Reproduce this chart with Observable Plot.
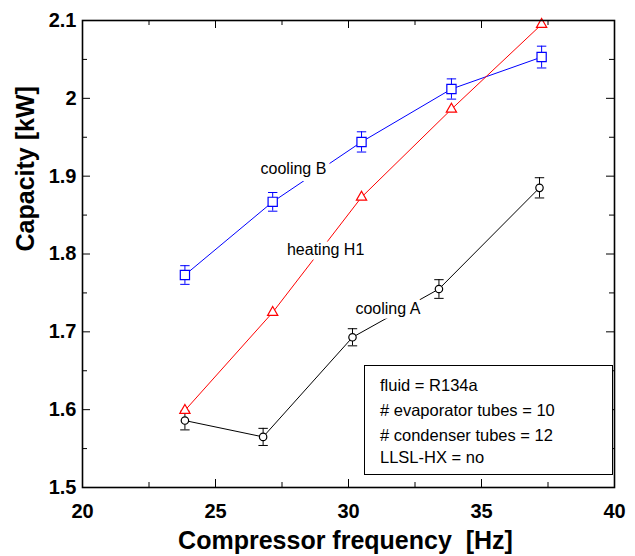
<!DOCTYPE html>
<html><head><meta charset="utf-8">
<script src="https://cdn.jsdelivr.net/npm/d3@7"></script>
<script src="https://cdn.jsdelivr.net/npm/@observablehq/plot@0.6"></script>
<style>
body{margin:0;background:#fff;}
#wrap{position:relative;width:635px;height:556px;}
#wrap svg{display:block;overflow:visible;}
#note{position:absolute;left:364px;top:365px;width:249px;height:110px;border:1px solid #000;box-sizing:border-box;background:#fff;font-family:"Liberation Sans",Arial,sans-serif;font-size:16.5px;color:#000;}
#note div{position:absolute;left:15px;white-space:nowrap;line-height:1;}
</style></head>
<body><div id="wrap"></div>
<script>
// ---- data ----
const freqCoolingB = [23.85, 27.15, 30.49, 33.87, 37.26];
const capCoolingB  = [1.773, 1.867, 1.944, 2.012, 2.053];
const errCoolingB  = [0.012, 0.012, 0.013, 0.013, 0.014];

const freqHeatingH1 = [23.85, 27.15, 30.49, 33.87, 37.26];
const capHeatingH1  = [1.599, 1.725, 1.873, 1.986, 2.095];

const freqCoolingA = [23.85, 26.79, 30.15, 33.40, 37.18];
const capCoolingA  = [1.586, 1.565, 1.693, 1.755, 1.885];
const errCoolingA  = [0.012, 0.011, 0.011, 0.012, 0.013];

const labelNames = ["cooling B", "heating H1", "cooling A"];
const labelFreq  = [27.93, 29.14, 31.48];
const labelCap   = [1.909, 1.805, 1.729];

const xMajorTicks = [20, 25, 30, 35, 40];
const xMinorTicks = [22.5, 27.5, 32.5, 37.5];
const yMajorTicks = [1.5, 1.6, 1.7, 1.8, 1.9, 2, 2.1];
const yMinorTicks = [1.55, 1.65, 1.75, 1.85, 1.95, 2.05];

const xTitle = "Compressor frequency  [Hz]";
const yTitle = "Capacity [kW]";
const noteLines = ["fluid = R134a", "# evaporator tubes = 10", "# condenser tubes = 12", "LLSL-HX = no"];

// ---- tables ----
const seriesB = freqCoolingB.map((f, i) => ({f, c: capCoolingB[i], e: errCoolingB[i]}));
const seriesH = freqHeatingH1.map((f, i) => ({f, c: capHeatingH1[i]}));
const seriesA = freqCoolingA.map((f, i) => ({f, c: capCoolingA[i], e: errCoolingA[i]}));
const labels = labelNames.map((t, i) => ({t, f: labelFreq[i], c: labelCap[i]}));

const capSymbol = {draw(ctx, size) { const w = Math.sqrt(size / Math.PI); ctx.moveTo(-w, 0); ctx.lineTo(w, 0); }};

const W = 635, H = 556, mL = 82, mR = 21, mT = 20, mB = 69;
const fw = W - mL - mR, fh = H - mT - mB;
const font = "'Liberation Sans', Arial, sans-serif";

function errMarks(data, color) {
  return [
    Plot.ruleX(data, {x: "f", y1: d => d.c - d.e, y2: d => d.c + d.e, stroke: color, strokeWidth: 1}),
    Plot.dot(data, {x: "f", y: d => d.c + d.e, symbol: capSymbol, r: 4.7, stroke: color, fill: "none", strokeWidth: 1}),
    Plot.dot(data, {x: "f", y: d => d.c - d.e, symbol: capSymbol, r: 4.7, stroke: color, fill: "none", strokeWidth: 1})
  ];
}

const chart = Plot.plot({
  width: W, height: H,
  marginLeft: mL, marginRight: mR, marginTop: mT, marginBottom: mB,
  style: {fontFamily: font, background: "white", color: "black"},
  x: {domain: [20, 40], label: null},
  y: {domain: [1.5, 2.1], label: null},
  marks: [
    // inward ticks on all four sides
    Plot.tickX(xMajorTicks, {x: d => d, insetTop: fh - 8, stroke: "black"}),
    Plot.tickX(xMajorTicks, {x: d => d, insetBottom: fh - 8, stroke: "black"}),
    Plot.tickX(xMinorTicks, {x: d => d, insetTop: fh - 5, stroke: "black"}),
    Plot.tickX(xMinorTicks, {x: d => d, insetBottom: fh - 5, stroke: "black"}),
    Plot.tickY(yMajorTicks, {y: d => d, insetRight: fw - 8, stroke: "black"}),
    Plot.tickY(yMajorTicks, {y: d => d, insetLeft: fw - 8, stroke: "black"}),
    Plot.tickY(yMinorTicks, {y: d => d, insetRight: fw - 5, stroke: "black"}),
    Plot.tickY(yMinorTicks, {y: d => d, insetLeft: fw - 5, stroke: "black"}),
    Plot.axisX(xMajorTicks, {tickSize: 0, tickPadding: 16, fontSize: 20, fontWeight: "bold", tickFormat: d => String(d), label: null}),
    Plot.axisY(yMajorTicks, {tickSize: 0, tickPadding: 6, fontSize: 20, fontWeight: "bold", tickFormat: d => String(d), label: null}),
    // series lines
    Plot.line(seriesB, {x: "f", y: "c", stroke: "#0000ff", strokeWidth: 1}),
    Plot.line(seriesH, {x: "f", y: "c", stroke: "#ff0000", strokeWidth: 1}),
    Plot.line(seriesA, {x: "f", y: "c", stroke: "black", strokeWidth: 1}),
    // in-line labels (white halo interrupts the lines)
    Plot.text(labels, {x: "f", y: "c", text: "t", fontSize: 16, fill: "black", stroke: "white", strokeWidth: 9, fontFamily: font}),
    // error bars
    ...errMarks(seriesB, "#0000ff"),
    ...errMarks(seriesA, "black"),
    // markers
    Plot.dot(seriesB, {x: "f", y: "c", symbol: "square", r: 5.2, stroke: "#0000ff", fill: "white", strokeWidth: 1.2}),
    Plot.dot(seriesH, {x: "f", y: "c", symbol: "triangle", r: 3.8, stroke: "#ff0000", fill: "white", strokeWidth: 1.2}),
    Plot.dot(seriesA, {x: "f", y: "c", symbol: "circle", r: 3.7, stroke: "black", fill: "white", strokeWidth: 1.2}),
    // frame
    Plot.frame({stroke: "black", strokeWidth: 1.6}),
    // axis titles
    Plot.text([xTitle], {frameAnchor: "bottom", text: d => d, lineAnchor: "bottom", dy: 61, dx: -3, fontSize: 25, fontWeight: "bold", fill: "black", fontFamily: font}),
    Plot.text([yTitle], {frameAnchor: "left", text: d => d, rotate: -90, lineAnchor: "bottom", dx: -48.5, dy: -2.5, fontSize: 25, fontWeight: "bold", fill: "black", fontFamily: font})
  ]
});

const wrap = document.getElementById("wrap");
wrap.appendChild(chart);

const note = document.createElement("div");
note.id = "note";
const tops = [11, 36, 61, 82.7];
noteLines.forEach((t, i) => {
  const d = document.createElement("div");
  d.textContent = t;
  d.style.top = tops[i] + "px";
  note.appendChild(d);
});
wrap.appendChild(note);
</script>
</body></html>
